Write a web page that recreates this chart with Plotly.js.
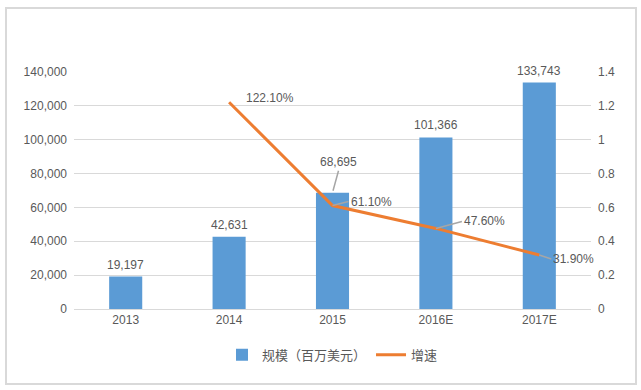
<!DOCTYPE html>
<html><head><meta charset="utf-8">
<script src="https://cdn.plot.ly/plotly-3.0.1.min.js"></script>
<style>
body{margin:0;padding:0;background:#fff;}
#frame{position:absolute;left:5px;top:7px;width:628px;height:374px;border:2px solid #d9d9d9;}
#chart{position:absolute;left:0;top:0;width:641px;height:390px;}
</style></head>
<body><div id="frame"></div><div id="chart"></div>
<script>
var categories = ['2013','2014','2015','2016E','2017E'];
var scale = [19197, 42631, 68695, 101366, 133743];
var growthYears = ['2014','2015','2016E','2017E'];
var growth = [1.221, 0.611, 0.476, 0.319];
var growthLabels = ['122.10%','61.10%','47.60%','31.90%'];
var scaleLabels = ['19,197','42,631','68,695','101,366','133,743'];

var font = 'Liberation Sans, Noto Sans CJK SC, sans-serif';
var txt = '#595959';

var bar = {type:'bar', x:categories, y:scale, name:'规模（百万美元）',
  marker:{color:'#5B9BD5'}, width:0.32, hoverinfo:'skip'};
var line = {type:'scatter', mode:'lines', x:growthYears, y:growth, yaxis:'y2', name:'增速',
  line:{color:'#ED7D31', width:3}, hoverinfo:'skip'};

function idx(c){ return categories.indexOf(c); }

var ann = [];
scale.forEach(function(v,i){
  if (i === 2) {
    ann.push({x:i, y:v, xref:'x', yref:'y', text:scaleLabels[i], showarrow:true,
      arrowhead:0, arrowwidth:1.5, arrowcolor:'#a6a6a6', ax:6, ay:-22, standoff:2,
      font:{family:font,size:12,color:txt}, yanchor:'bottom'});
  } else {
    ann.push({x:i, y:v, xref:'x', yref:'y', text:scaleLabels[i], showarrow:false,
      yanchor:'bottom', yshift:3, font:{family:font,size:12,color:txt}});
  }
});
var gOff = [[0,0,false],[16,-4,true],[26,-7,true],[12,4,true]];
growth.forEach(function(v,i){
  var o = gOff[i];
  ann.push({x:idx(growthYears[i]), y:v, xref:'x', yref:'y2', text:growthLabels[i],
    showarrow:o[2], arrowhead:0, arrowwidth:1.5, arrowcolor:'#a6a6a6',
    ax:o[0], ay:o[1], xanchor:'left', xshift: o[2]?0:15, yshift: o[2]?0:4,
    font:{family:font,size:12,color:txt}});
});

var layout = {
  width:641, height:390, margin:{l:74, r:50, t:72, b:81},
  paper_bgcolor:'rgba(0,0,0,0)', plot_bgcolor:'rgba(0,0,0,0)',
  font:{family:font, size:12, color:txt},
  showlegend:true,
  legend:{orientation:'h', x:0.5, xanchor:'center', y:-0.13, yanchor:'top',
    font:{family:'Noto Sans CJK SC, sans-serif', size:13, color:txt}},
  xaxis:{type:'category', range:[-0.5,4.5], showgrid:false, showline:true, linecolor:'#d9d9d9', linewidth:1,
    ticks:'', tickfont:{family:font,size:12,color:txt}},
  yaxis:{range:[0,140000], dtick:20000, tickformat:',', gridcolor:'#d9d9d9', gridwidth:1,
    zeroline:false, showline:false, ticks:'', ticklabelstandoff:6, tickfont:{family:font,size:12,color:txt}},
  yaxis2:{range:[0,1.4], dtick:0.2, overlaying:'y', side:'right', showgrid:false, zeroline:false,
    showline:false, ticklabelstandoff:6, tickfont:{family:font,size:12,color:txt}},
  annotations:ann,
  bargap:0.68
};
Plotly.newPlot('chart',[bar,line],layout,{displayModeBar:false, staticPlot:true});
</script></body></html>
